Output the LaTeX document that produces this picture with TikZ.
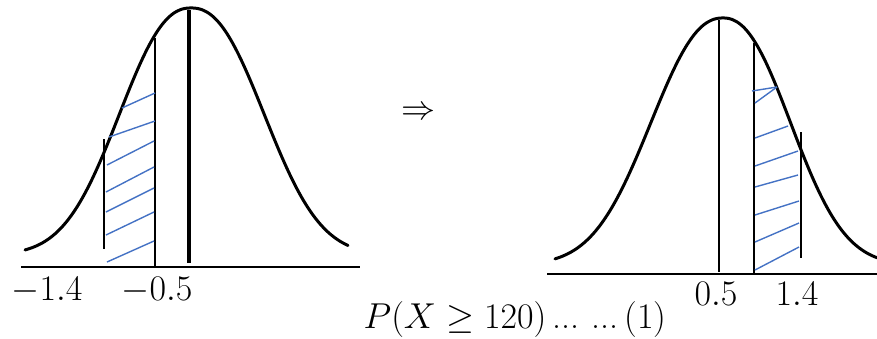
\RequirePackage{fix-cm}
\documentclass[tikz,border=0pt]{standalone}
\begin{document}
\begin{tikzpicture}[x=1pt,y=-1pt,
  curve/.style={line width=3pt,black,line join=round,line cap=round},
  vline/.style={line width=2.6pt,black},
  axis/.style={line width=2.6pt,black},
  hatch/.style={line width=1.4pt,color=hatchblue},
  lab/.style={font=\fontsize{36}{42}\selectfont,inner sep=0pt,anchor=base},
  big/.style={font=\fontsize{36}{42}\selectfont,inner sep=0pt,anchor=base}]
\definecolor{hatchblue}{RGB}{68,114,196}
\useasboundingbox (0,0) rectangle (877,338);
% left curve
\draw[curve] plot[domain=25:348,samples=161]
  (\x,{255-247*exp(-(((abs(\x-191)+0.001)/(\x<191?92:94))^2.3))});
\draw[axis] (21,267) -- (360,267);
\draw[vline,line width=3.2pt] (189,10) -- (189,263);
\draw[vline] (155,38) -- (155,267);
\draw[vline] (104,139) -- (104,249);
\foreach \a/\b/\c/\d in {122/108/155/93, 109/137/155/121, 107/165/154/141, 106/192/154/167, 106/212/154/188, 106/235/154/212, 107/262/154/241}
  \draw[hatch] (\a,\b) -- (\c,\d);
\node[lab] (l14) at (47,300) {$-1.4$};
\node[lab] (l05) at (157,300) {$-0.5$};
% arrow
\node[font=\fontsize{34}{38}\selectfont,inner sep=0pt] (arr) at (418,113) {$\Rightarrow$};
% right curve
\draw[curve] plot[domain=555:877,samples=161]
  (\x,{265-247*exp(-(((abs(\x-723)+0.001)/(\x<723?94:88))^2.25))});
\draw[axis] (547,274) -- (877,274);
\draw[vline] (719,20) -- (719,272);
\draw[vline] (754,43) -- (754,274);
\draw[vline] (801,132) -- (801,258);
\foreach \a/\b/\c/\d in {752/91/777/87, 755/103/777/87, 755/138/788/126, 755/166/798/151, 755/187/798/175, 755/215/799/201, 755/242/799/223, 755/270/799/247}
  \draw[hatch] (\a,\b) -- (\c,\d);
\node[lab] (r05) at (716,305) {$0.5$};
\node[lab] (r14) at (797,305) {$1.4$};
% bottom text
\node[big] (eq) at (515,328) {$P(X\geq 120)$\,...\,\,...\,(1)};
\end{tikzpicture}
\end{document}
